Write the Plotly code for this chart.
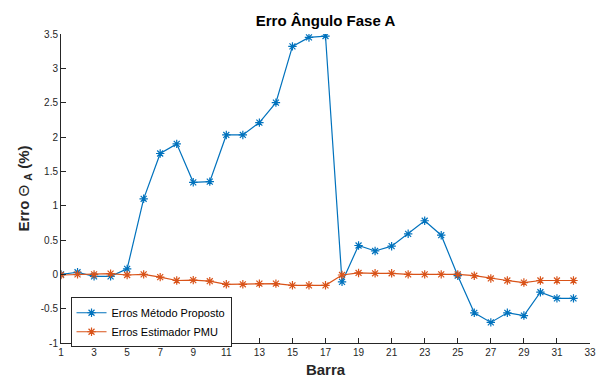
import plotly.graph_objects as go

barras = list(range(1, 33))

erros_metodo_proposto = [
    0.00, 0.03, -0.03, -0.03, 0.08, 1.10, 1.76, 1.90, 1.34, 1.35,
    2.03, 2.03, 2.21, 2.50, 3.32, 3.45, 3.47, -0.11, 0.42, 0.34,
    0.41, 0.59, 0.78, 0.57, -0.02, -0.56, -0.70, -0.56, -0.60, -0.26,
    -0.35, -0.35,
]

erros_estimador_pmu = [
    -0.01, 0.00, 0.00, 0.01, -0.01, 0.00, -0.04, -0.09, -0.085, -0.10,
    -0.145, -0.145, -0.135, -0.135, -0.16, -0.16, -0.16, -0.01, 0.02, 0.015,
    0.015, 0.00, 0.00, 0.00, 0.00, -0.02, -0.06, -0.09, -0.12, -0.09,
    -0.09, -0.09,
]

x_ticks = list(range(1, 34, 2))
y_ticks = [-1, -0.5, 0, 0.5, 1, 1.5, 2, 2.5, 3, 3.5]
y_tick_labels = ["-1", "-0.5", "0", "0.5", "1", "1.5", "2", "2.5", "3", "3.5"]

AZUL = "#0072BD"
LARANJA = "#D95319"
EIXO = "#262626"
FONTE = "Liberation Sans, Arial, Helvetica, sans-serif"

fig = go.Figure()
fig.add_trace(go.Scatter(
    x=barras, y=erros_metodo_proposto, mode="lines+markers",
    name="Erros Método Proposto",
    line=dict(color=AZUL, width=1.2),
    marker=dict(symbol="asterisk-open", size=7, color=AZUL,
                line=dict(color=AZUL, width=1.2)),
))
fig.add_trace(go.Scatter(
    x=barras, y=erros_estimador_pmu, mode="lines+markers",
    name="Erros Estimador PMU",
    line=dict(color=LARANJA, width=1.2),
    marker=dict(symbol="asterisk-open", size=7, color=LARANJA,
                line=dict(color=LARANJA, width=1.2)),
))

fig.update_layout(
    width=606, height=378,
    margin=dict(l=61, r=16, t=34, b=35, autoexpand=False),
    paper_bgcolor="white", plot_bgcolor="white",
    font=dict(family=FONTE, size=10, color=EIXO),
    title=dict(text="<b>Erro Ângulo Fase A</b>", x=0.5, xref="paper",
               xanchor="center", y=0.945, yanchor="middle",
               font=dict(family=FONTE, size=15, color="black")),
    legend=dict(x=0.018, y=0.148, xanchor="left", yanchor="top",
                bgcolor="white", bordercolor=EIXO, borderwidth=1,
                font=dict(family=FONTE, size=11, color="black"),
                tracegroupgap=0, itemwidth=30),
    showlegend=True,
)

fig.update_xaxes(
    range=[1, 33], tickvals=x_ticks, ticktext=[str(v) for v in x_ticks],
    ticks="inside", ticklen=5, tickcolor=EIXO, tickwidth=1,
    showline=True, linecolor=EIXO, linewidth=1, mirror=False,
    showgrid=False, zeroline=False, automargin=False,
    tickfont=dict(family=FONTE, size=10, color=EIXO),
    title=dict(text="<b>Barra</b>", standoff=8,
               font=dict(family=FONTE, size=15, color=EIXO)),
)
fig.update_yaxes(
    range=[-1, 3.5], tickvals=y_ticks, ticktext=y_tick_labels,
    ticks="inside", ticklen=5, tickcolor=EIXO, tickwidth=1,
    showline=True, linecolor=EIXO, linewidth=1, mirror=False,
    showgrid=False, zeroline=False, automargin=False,
    tickfont=dict(family=FONTE, size=10, color=EIXO),
    title=dict(text="<b>Erro</b> Θ <sub><b>A</b></sub> <b>(%)</b>", standoff=7,
               font=dict(family=FONTE, size=15, color=EIXO)),
)

fig.write_html("out.html")
